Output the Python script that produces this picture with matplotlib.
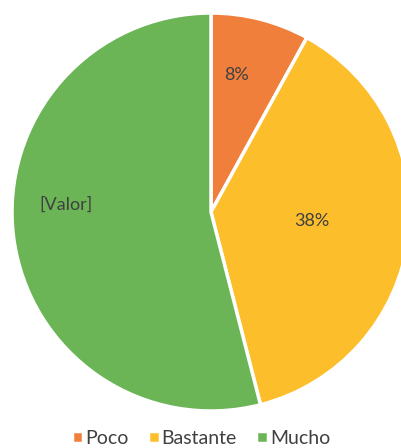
import matplotlib.pyplot as plt
import numpy as np

categories = ["Poco", "Bastante", "Mucho"]
values = [8, 38, 54]
labels = ["8%", "38%", "[Valor]"]
colors = ["#F07F3C", "#FDBE2C", "#6BB556"]

plt.rcParams["font.family"] = ["Lato", "DejaVu Sans"]

fig = plt.figure(figsize=(4.02, 4.48), dpi=100)
cx, cy, r = 211, 212, 199
ax = fig.add_axes([(cx - r) / 402, (448 - cy - r) / 448, 2 * r / 402, 2 * r / 448])

wedges, _ = ax.pie(
    values,
    colors=colors,
    startangle=90,
    counterclock=False,
    radius=1,
    wedgeprops=dict(edgecolor="white", linewidth=2.5),
)
ax.set_xlim(-1, 1)
ax.set_ylim(-1, 1)
ax.set_aspect("equal")

# label placement: distance from centre and angle shift, per slice
dist = [0.70, 0.51, 0.73]
shift = [4, 2, -10]
for w, lab, d, s in zip(wedges, labels, dist, shift):
    ang = np.deg2rad((w.theta1 + w.theta2) / 2 + s)
    ax.text(d * np.cos(ang), d * np.sin(ang), lab, ha="center", va="center",
            fontsize=13, color="#404040")

fig.legend(wedges, categories, loc="lower center", bbox_to_anchor=(0.5, -0.037),
           ncol=3, frameon=False, fontsize=14, handlelength=0.6, handleheight=0.6,
           handletextpad=0.1, columnspacing=1.0, labelcolor="#404040")

fig.savefig("out.png", dpi=100)
